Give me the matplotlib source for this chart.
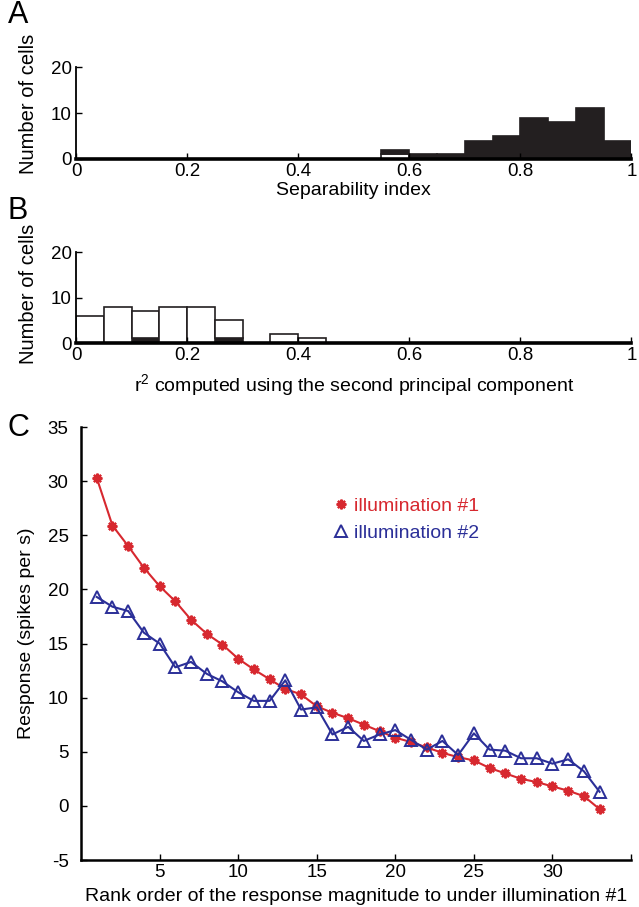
import matplotlib
matplotlib.use("Agg")

import numpy as np
import matplotlib.pyplot as plt
from matplotlib.lines import Line2D

plt.rcParams["font.family"] = ["Liberation Sans", "DejaVu Sans"]
plt.rcParams["axes.unicode_minus"] = False

# --- data -----------------------------------------------------------------
bin_edges = np.round(np.arange(0, 1.0, 0.05), 2)      # left edge of each 0.05 bin

# A: separability index (white stacked below black)
sep_white = [0, 0, 0, 0, 0, 0, 0, 0, 0, 0, 0, 1, 0, 0, 0, 0, 0, 0, 0, 0]
sep_black = [0, 0, 0, 0, 0, 0, 0, 0, 0, 0, 0, 1, 1, 1, 4, 5, 9, 8, 11, 4]

# B: r^2 with second principal component (black stacked below white)
r2_black = [0, 0, 1, 0, 0, 1, 0, 0, 0, 0, 0, 0, 0, 0, 0, 0, 0, 0, 0, 0]
r2_white = [6, 8, 6, 8, 8, 4, 0, 2, 1, 0, 0, 0, 0, 0, 0, 0, 0, 0, 0, 0]

# C: responses ranked by illumination #1
rank = np.arange(1, 34)
illum1 = [30.3, 25.9, 24.0, 22.0, 20.3, 18.9, 17.2, 15.9, 14.9, 13.6, 12.6,
          11.7, 10.8, 10.3, 9.2, 8.6, 8.1, 7.5, 6.9, 6.3, 5.9, 5.4, 4.9, 4.5,
          4.2, 3.5, 3.0, 2.5, 2.2, 1.8, 1.4, 0.9, -0.3]
illum2 = [19.3, 18.4, 18.0, 16.0, 15.0, 12.8, 13.3, 12.2, 11.5, 10.5, 9.7,
          9.7, 11.6, 8.9, 9.1, 6.6, 7.3, 6.0, 6.6, 7.0, 6.1, 5.2, 6.0, 4.7,
          6.7, 5.2, 5.1, 4.4, 4.4, 3.9, 4.3, 3.2, 1.3]

RED = "#d7282f"
BLUE = "#2b2f98"
DARK = "#231f20"
TICK_FS = 13.5
LAB_FS = 14

fig = plt.figure(figsize=(6.39, 9.07), dpi=100)


def style_axes(ax):
    for s in ["top", "right"]:
        ax.spines[s].set_visible(False)
    ax.spines["left"].set_linewidth(1.3)
    ax.spines["bottom"].set_linewidth(1.3)
    ax.tick_params(direction="in", length=4, width=1.0, labelsize=TICK_FS,
                   pad=3)


def hist_panel(rect, lower, upper, lower_c, upper_c, xlabel, letter, letter_y,
               ylab_y):
    ax = fig.add_axes(rect)
    ax.bar(bin_edges, lower, width=0.05, align="edge", color=lower_c,
           edgecolor=DARK, linewidth=1.2)
    ax.bar(bin_edges, upper, width=0.05, bottom=lower, align="edge",
           color=upper_c, edgecolor=DARK, linewidth=1.2)
    ax.set_xlim(0, 1)
    ax.set_ylim(0, 20)
    ax.set_yticks([0, 10, 20])
    ax.set_xticks([0, 0.2, 0.4, 0.6, 0.8, 1])
    ax.set_xticklabels(["0", "0.2", "0.4", "0.6", "0.8", "1"])
    style_axes(ax)
    ax.spines["bottom"].set_linewidth(2.6)
    ax.set_ylabel("Number of cells", fontsize=LAB_FS + 0.5)
    ax.yaxis.set_label_coords(-0.068, ylab_y)
    ax.set_xlabel(xlabel, fontsize=LAB_FS, labelpad=1)
    fig.text(0.012, letter_y, letter, fontsize=22, va="center", ha="left")
    return ax


axA = hist_panel([0.119, 0.8247, 0.869, 0.1014], sep_white, sep_black,
                 "white", DARK, "Separability index", "A", 0.983, 0.60)
axB = hist_panel([0.119, 0.6218, 0.869, 0.1003], r2_black, r2_white,
                 DARK, "white",
                 r"$\mathregular{r^2}$ computed using the second principal component",
                 "B", 0.767, 0.54)
axB.xaxis.labelpad = 6

# --- panel C ---------------------------------------------------------------
axC = fig.add_axes([0.1268, 0.0518, 0.8607, 0.4774])
axC.plot(rank, illum1, color=RED, lw=1.5, marker=(8, 2, 0), ms=7, mew=1.6,
         mec=RED, mfc=RED)
axC.plot(rank, illum2, color=BLUE, lw=1.5, marker="^", ms=9, mew=1.4,
         mec=BLUE, mfc="none")
axC.set_xlim(0, 35)
axC.set_ylim(-5, 35)
axC.set_xticks([5, 10, 15, 20, 25, 30, 35])
axC.set_xticklabels(["5", "10", "15", "20", "25", "30", ""])
axC.set_yticks(np.arange(-5, 36, 5))
style_axes(axC)
axC.spines["bottom"].set_linewidth(1.8)
axC.spines["left"].set_linewidth(1.8)
axC.tick_params(axis="y", pad=9)
axC.set_ylabel("Response (spikes per s)", fontsize=LAB_FS)
axC.yaxis.set_label_coords(-0.083, 0.524)
axC.set_xlabel("Rank order of the response magnitude to under illumination #1",
               fontsize=LAB_FS, labelpad=5)
fig.text(0.012, 0.528, "C", fontsize=22, va="center", ha="left")

handles = [
    Line2D([], [], ls="none", marker=(8, 2, 0), ms=7, mew=1.6, color=RED),
    Line2D([], [], ls="none", marker="^", ms=9, mew=1.4, mec=BLUE, mfc="none"),
]
leg = axC.legend(handles, ["illumination #1", "illumination #2"],
                 loc="upper left", bbox_to_anchor=(0.447, 0.855),
                 frameon=False, fontsize=LAB_FS, handlelength=0.7,
                 handletextpad=0.3, labelspacing=0.45, borderaxespad=0)
leg.get_texts()[0].set_color(RED)
leg.get_texts()[1].set_color(BLUE)

fig.savefig("out.png", dpi=100)
plt.close(fig)
